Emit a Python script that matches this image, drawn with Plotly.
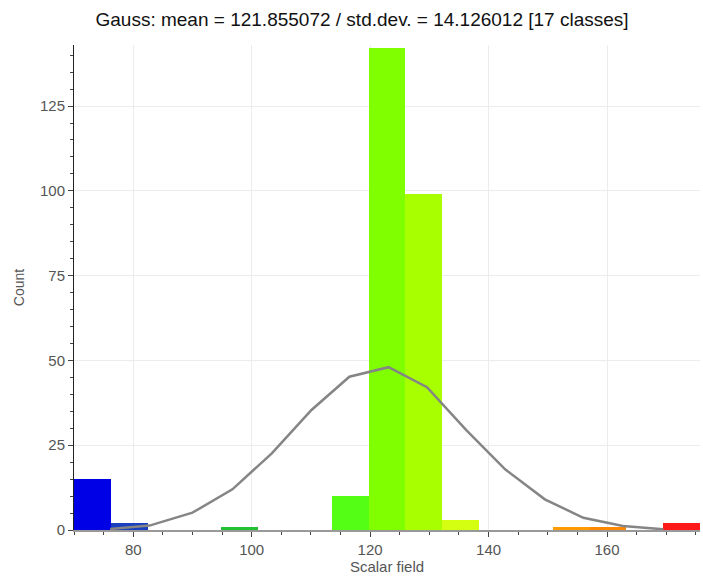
import plotly.graph_objects as go

# Histogram data (17 classes)
x_min = 70.0
x_max = 175.7
n_classes = 17
counts = [15, 2, 0, 0, 1, 0, 0, 10, 142, 99, 3, 0, 0, 1, 1, 0, 2]
bar_colors = ["#0000e6", "#1a3fbf", "#1560d0", "#10a0a0", "#22c033", "#33d833",
              "#44ee22", "#55ff15", "#7fff00", "#a8ff00", "#d4ff10", "#ffee00",
              "#ffcc00", "#ff9a00", "#ff8800", "#ff5500", "#ff1a1a"]

# Gauss curve points
gauss_x = [76.1, 82.75, 90.0, 96.75, 103.4, 110.1, 116.5, 123.1, 129.6, 136.2,
           142.8, 149.5, 156.0, 162.7, 169.5]
gauss_y = [0.3, 1.3, 5.1, 12.0, 22.6, 35.4, 45.2, 48.0, 42.1, 29.5,
           17.9, 9.05, 3.6, 1.2, 0.2]

title_text = "Gauss: mean = 121.855072 / std.dev. = 14.126012 [17 classes]"

w = (x_max - x_min) / n_classes
centers = [x_min + w * (i + 0.5) for i in range(n_classes)]

fig = go.Figure()
fig.add_trace(go.Bar(x=centers, y=counts, width=[w] * n_classes,
                     marker=dict(color=bar_colors, line=dict(width=0)),
                     showlegend=False, hoverinfo="x+y"))
fig.add_trace(go.Scatter(x=gauss_x, y=gauss_y, mode="lines",
                         line=dict(color="#858585", width=2.5),
                         showlegend=False))

fig.update_layout(
    width=703, height=582,
    margin=dict(l=74, r=3, t=45, b=52, autoexpand=False),
    plot_bgcolor="white", paper_bgcolor="white",
    bargap=0,
    font=dict(family="Liberation Sans, Arial, sans-serif", color="#555555"),
    title=dict(text=title_text, x=0.515, xanchor="center", y=0.978, yanchor="top",
               font=dict(size=19, color="#111111")),
    xaxis=dict(range=[x_min, x_max], tickmode="linear", tick0=0, dtick=20,
               automargin=False,
               showgrid=True, gridcolor="#ececec", gridwidth=1,
               showline=True, linecolor="#999999", linewidth=2,
               ticks="outside", ticklen=5, tickcolor="#444444",
               minor=dict(dtick=5, tick0=0, ticks="outside", ticklen=3,
                          tickcolor="#444444", showgrid=False),
               tickfont=dict(size=15, color="#555555"),
               title=dict(text="Scalar field", font=dict(size=15, color="#555555"),
                          standoff=2),
               zeroline=False),
    yaxis=dict(range=[0, 143], tickmode="linear", tick0=0, dtick=25,
               automargin=False,
               showgrid=True, gridcolor="#ececec", gridwidth=1,
               showline=True, linecolor="#222222", linewidth=1,
               ticks="outside", ticklen=5, tickcolor="#444444",
               minor=dict(dtick=5, tick0=0, ticks="outside", ticklen=3,
                          tickcolor="#444444", showgrid=False),
               tickfont=dict(size=15, color="#555555"),
               title=dict(text="Count", font=dict(size=14, color="#555555"),
                          standoff=12),
               zeroline=False),
)

fig.write_html("out.html", config={"displayModeBar": False},
               post_script="document.body.style.margin='0px';")
